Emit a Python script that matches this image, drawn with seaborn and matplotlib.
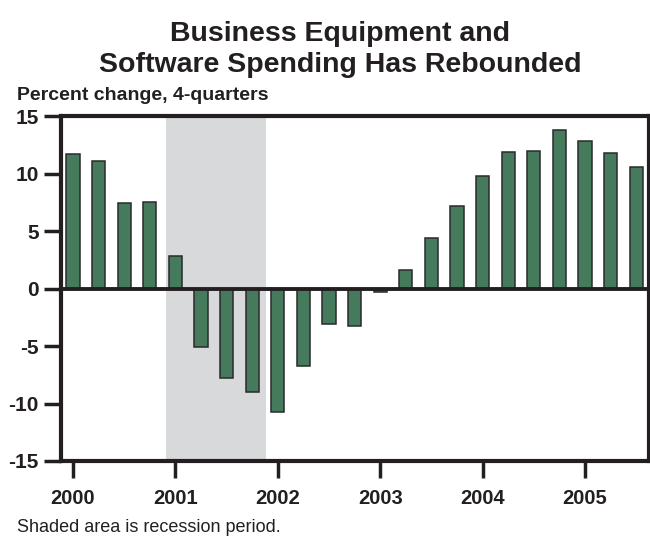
import matplotlib
matplotlib.use("Agg")
import matplotlib.pyplot as plt
import seaborn as sns
import pandas as pd

# Quarterly four-quarter percent change, 2000Q1 - 2005Q3
quarters = [f"{y}Q{q}" for y in range(2000, 2006) for q in range(1, 5)][:23]
pct_change = [11.7, 11.1, 7.4, 7.55, 2.8,
              -5.1, -7.8, -9.0, -10.75, -6.7, -3.1, -3.3,
              -0.3, 1.6, 4.4, 7.2, 9.8, 11.9, 12.0, 13.8,
              12.8, 11.8, 10.6]
year_labels = ["2000", "2001", "2002", "2003", "2004", "2005"]
y_ticks = [15, 10, 5, 0, -5, -10, -15]
recession_span = (3.63, 7.54)  # in quarter-index units

df = pd.DataFrame({"quarter": quarters, "pct": pct_change})

sns.set_theme(style="white")
plt.rcParams["font.family"] = ["Liberation Sans", "DejaVu Sans"]

BAR = "#467a5c"
INK = "#231f20"

fig = plt.figure(figsize=(6.5, 5.4), dpi=100)
ax = fig.add_axes([61 / 650, 1 - 461 / 540, 588 / 650, 345 / 540])

ax.axvspan(*recession_span, color="#d8d9db", lw=0, zorder=0)

sns.barplot(data=df, x="quarter", y="pct", order=quarters, color=BAR,
            saturation=1, width=0.52, edgecolor="#2a2a2a", linewidth=1.1,
            ax=ax, zorder=2)

ax.axhline(0, color=INK, lw=2.8, zorder=3)

ax.set_xlim(-0.47, 22.5)
ax.set_ylim(-15, 15)
ax.set_yticks(y_ticks)
ax.set_yticklabels([str(v) for v in y_ticks])
ax.set_xticks(range(0, 24, 4))
ax.set_xticklabels(year_labels)
ax.set_xlabel("")
ax.set_ylabel("")

for s in ax.spines.values():
    s.set_visible(True)
    s.set_color(INK)
    s.set_linewidth(3)
    s.set_zorder(4)

ax.tick_params(axis="y", which="major", left=True, direction="out",
               length=12, width=2.5, color=INK, pad=4, labelsize=15,
               labelcolor=INK)
ax.tick_params(axis="x", which="major", bottom=True, direction="out",
               length=12, width=2.5, color=INK, pad=8, labelsize=14.5,
               labelcolor=INK)
for lbl in ax.get_xticklabels() + ax.get_yticklabels():
    lbl.set_fontweight("bold")

fig.text(0.523, 0.962, "Business Equipment and\nSoftware Spending Has Rebounded",
         ha="center", va="top", fontsize=20.5, fontweight="bold", color=INK,
         linespacing=1.25)
fig.text(17 / 650, 1 - 96 / 540, "Percent change, 4-quarters", ha="left",
         va="center", fontsize=14, fontweight="bold", color=INK)
fig.text(17 / 650, 1 - 527 / 540, "Shaded area is recession period.",
         ha="left", va="center", fontsize=13, color=INK)

fig.savefig("out.png", dpi=100)
